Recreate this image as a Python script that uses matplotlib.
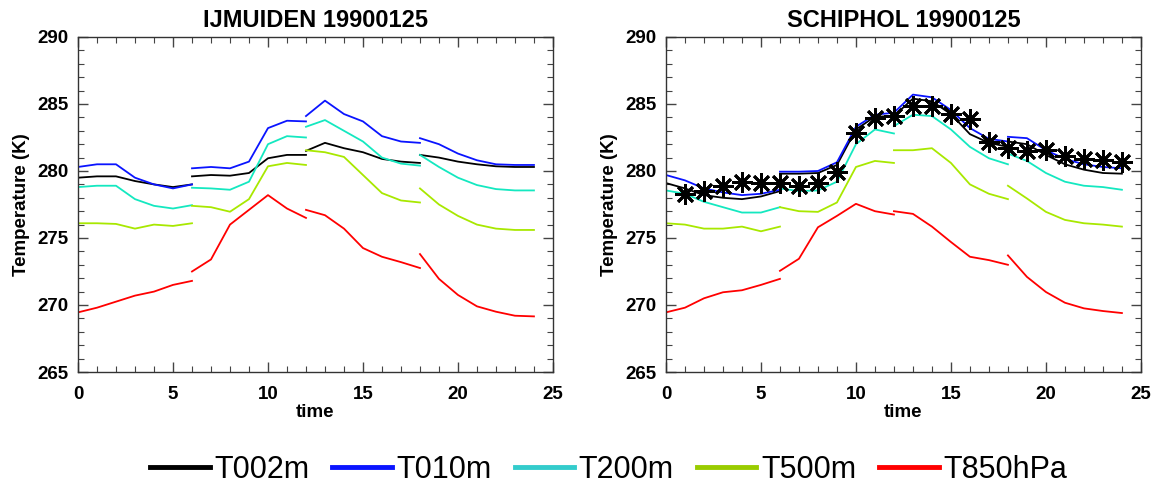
import matplotlib
matplotlib.use("Agg")
import matplotlib.pyplot as plt
from matplotlib.lines import Line2D
from matplotlib.ticker import MultipleLocator

# hours of the four forecast pieces
seg_hours = [list(range(0, 7)), list(range(6, 13)), list(range(12, 19)), list(range(18, 25))]

# IJMUIDEN 19900125
ijm_t002 = [[279.5, 279.6, 279.6, 279.25, 279.0, 278.8, 279.0],
            [279.6, 279.7, 279.65, 279.85, 280.95, 281.2, 281.2],
            [281.5, 282.1, 281.7, 281.4, 280.9, 280.7, 280.6],
            [281.2, 281.0, 280.7, 280.5, 280.35, 280.3, 280.3]]
ijm_t010 = [[280.3, 280.5, 280.5, 279.5, 279.0, 278.7, 279.0],
            [280.2, 280.3, 280.2, 280.7, 283.2, 283.75, 283.7],
            [284.1, 285.25, 284.25, 283.7, 282.6, 282.2, 282.1],
            [282.45, 282.0, 281.3, 280.8, 280.5, 280.45, 280.45]]
ijm_t200 = [[278.8, 278.9, 278.9, 277.9, 277.4, 277.2, 277.45],
            [278.75, 278.7, 278.6, 279.2, 282.0, 282.6, 282.5],
            [283.3, 283.8, 283.0, 282.2, 281.0, 280.55, 280.4],
            [281.2, 280.3, 279.5, 278.95, 278.65, 278.55, 278.55]]
ijm_t500 = [[276.1, 276.1, 276.05, 275.7, 276.0, 275.9, 276.1],
            [277.4, 277.3, 276.96, 277.9, 280.35, 280.6, 280.45],
            [281.55, 281.4, 281.05, 279.7, 278.35, 277.8, 277.65],
            [278.7, 277.5, 276.65, 276.0, 275.7, 275.6, 275.6]]
ijm_t850 = [[269.45, 269.8, 270.25, 270.7, 271.0, 271.5, 271.8],
            [272.5, 273.4, 276.0, 277.1, 278.2, 277.2, 276.5],
            [277.1, 276.7, 275.7, 274.25, 273.6, 273.2, 272.76],
            [273.8, 271.95, 270.75, 269.9, 269.5, 269.2, 269.15]]

# SCHIPHOL 19900125
sch_t002 = [[279.1, 278.7, 278.2, 278.0, 277.9, 278.1, 278.5],
            [279.8, 279.8, 279.85, 280.45, 283.1, 284.05, 284.1],
            [284.1, 285.4, 285.2, 284.25, 282.75, 282.1, 281.8],
            [282.2, 282.0, 281.2, 280.5, 280.1, 279.85, 279.8]]
sch_t010 = [[279.7, 279.3, 278.7, 278.4, 278.2, 278.3, 278.6],
            [279.95, 279.95, 280.0, 280.65, 283.3, 284.2, 284.35],
            [284.35, 285.7, 285.5, 284.55, 283.2, 282.4, 282.2],
            [282.55, 282.45, 281.55, 280.9, 280.5, 280.3, 280.2]]
sch_t200 = [[278.55, 278.3, 277.7, 277.3, 276.9, 276.9, 277.3],
            [278.7, 278.5, 278.55, 279.2, 282.0, 283.1, 282.8],
            [283.35, 284.2, 284.1, 283.1, 281.8, 280.95, 280.5],
            [281.3, 280.75, 279.85, 279.2, 278.9, 278.8, 278.6]]
sch_t500 = [[276.1, 276.0, 275.7, 275.7, 275.85, 275.5, 275.85],
            [277.3, 277.0, 276.95, 277.65, 280.3, 280.75, 280.6],
            [281.55, 281.55, 281.7, 280.6, 279.0, 278.3, 277.9],
            [278.9, 277.95, 276.95, 276.35, 276.1, 276.0, 275.85]]
sch_t850 = [[269.45, 269.8, 270.5, 270.95, 271.1, 271.5, 271.95],
            [272.55, 273.45, 275.8, 276.65, 277.55, 277.0, 276.75],
            [277.0, 276.8, 275.85, 274.7, 273.6, 273.35, 273.0],
            [273.7, 272.1, 270.97, 270.17, 269.75, 269.55, 269.4]]

# observed 2 m temperature at Schiphol
obs_hours = list(range(1, 25))
obs_t = [278.3, 278.5, 278.9, 279.15, 279.1, 279.1, 278.85, 279.1, 279.95, 282.8,
         283.95, 284.1, 284.85, 284.85, 284.25, 283.85, 282.2, 281.7, 281.5, 281.6,
         281.1, 280.9, 280.8, 280.7]

names = ["T002m", "T010m", "T200m", "T500m", "T850hPa"]
line_colors = ["black", "#0a14ff", "#14e8c0", "#a8e800", "#ff0000"]
legend_colors = ["black", "#0a14ff", "#33cccc", "#99cc00", "#ff0000"]

plt.rcParams["font.family"] = ["Liberation Sans", "DejaVu Sans"]

fig = plt.figure(figsize=(11.59, 4.88), dpi=100)
ax1 = fig.add_axes([0.0673, 0.2377, 0.4098, 0.6865])
ax2 = fig.add_axes([0.5746, 0.2377, 0.4098, 0.6865])


def draw_panel(ax, title, series):
    for data, col in zip(series, line_colors):
        for hrs, vals in zip(seg_hours, data):
            ax.plot(hrs, vals, color=col, lw=1.3)
    ax.set_xlim(0, 25)
    ax.set_ylim(265, 290)
    ax.xaxis.set_major_locator(MultipleLocator(5))
    ax.xaxis.set_minor_locator(MultipleLocator(1))
    ax.yaxis.set_major_locator(MultipleLocator(5))
    ax.yaxis.set_minor_locator(MultipleLocator(1))
    ax.tick_params(which="both", direction="in", top=True, right=True, color="#444444")
    ax.tick_params(which="major", length=7, width=1.0, labelsize=13.5)
    ax.tick_params(axis="x", which="major", pad=10)
    ax.tick_params(axis="y", which="major", pad=7)
    ax.tick_params(which="minor", length=4, width=0.8)
    for lab in ax.get_xticklabels() + ax.get_yticklabels():
        lab.set_fontweight("bold")
    for sp in ax.spines.values():
        sp.set_linewidth(1.0)
        sp.set_color("#333333")
    ax.set_title(title, fontsize=17, fontweight="bold", pad=7)
    ax.set_xlabel("time", fontsize=13.5, fontweight="bold", labelpad=1)
    ax.set_ylabel("Temperature (K)", fontsize=13.5, fontweight="bold", labelpad=5)


draw_panel(ax1, "IJMUIDEN 19900125", [ijm_t002, ijm_t010, ijm_t200, ijm_t500, ijm_t850])
draw_panel(ax2, "SCHIPHOL 19900125", [sch_t002, sch_t010, sch_t200, sch_t500, sch_t850])
ax2.plot(obs_hours, obs_t, ls="none", marker=(8, 2, 0), ms=15, mew=2.0, color="black")

handles = [Line2D([], [], color=c, lw=3.5) for c in legend_colors]
fig.legend(handles, names, loc="lower center", bbox_to_anchor=(0.525, -0.05), ncol=5,
           frameon=False, handlelength=1.95, handletextpad=0.15,
           columnspacing=0.75, prop={"family": "Liberation Sans", "size": 22})

fig.savefig("out.png", dpi=100)
